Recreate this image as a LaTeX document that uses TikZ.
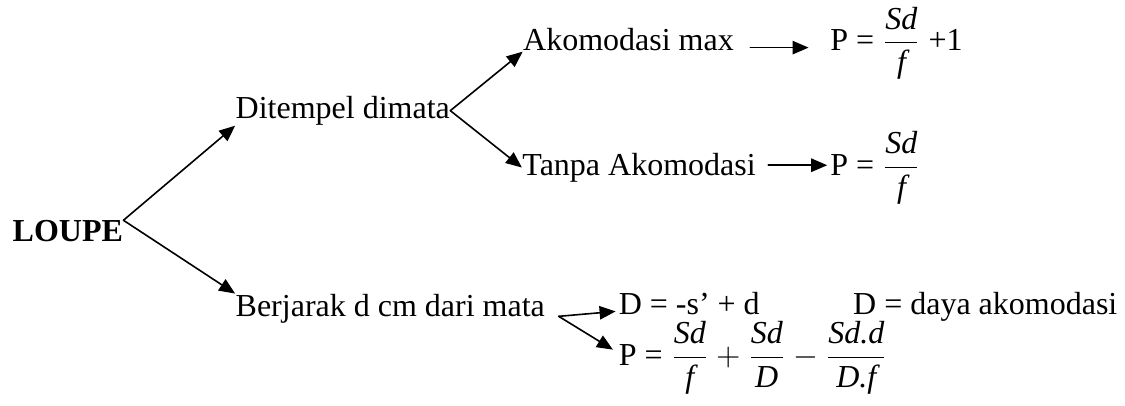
\documentclass[12pt,tikz,border=0pt]{standalone}
\usepackage{amsmath}
\usepackage{fontspec}
\setmainfont{Liberation Serif}
\usetikzlibrary{arrows.meta}

\begin{document}
\begin{tikzpicture}[>=latex, line cap=round, line join=round]

% --- Global TikZ Styles ---
\tikzset{
    branch/.style={
        -{Triangle[length=6pt, width=5pt]},
        line width=0.6pt,
        draw=black
    },
    term/.style={
        anchor=base west,
        inner sep=0pt
    }
}

\useasboundingbox (0,0) rectangle (14.83,5.34);

% --- Hoofdbegrip ---
\node[term] (loupe) at (0.16,2.15) {\bfseries LOUPE};

% --- Eerste vertakking ---
\node[term] (ditempel) at (3.10,3.78) {Ditempel dimata};
\node[term] (berjarak) at (3.10,1.17) {Berjarak d cm dari mata};

% --- Tweede vertakking ---
\node[term] (akomax) at (6.89,4.67) {Akomodasi max};
\node[term] (tanpa) at (6.88,3.03) {Tanpa Akomodasi};

% --- Formules ---
\node[term] (pmax) at (10.94,4.67)
    {P = $\dfrac{\textit{Sd}}{\textit{f}}$ +1};
\node[term] (ptanpa) at (10.94,3.03)
    {P = $\dfrac{\textit{Sd}}{\textit{f}}$};
\node[term] (djarak) at (8.15,1.20) {D = -s’ + d};
\node[term] (dket) at (11.24,1.20) {D = daya akomodasi};
\node[term] (pjarak) at (8.15,0.52)
    {P = $\dfrac{\textit{Sd}}{\textit{f}}+\dfrac{\textit{Sd}}{\textit{D}}-\dfrac{\textit{Sd.d}}{\textit{D.f}}$};

% --- Pijlen ---
\draw[branch] (loupe.north east) -- (ditempel.south west);
\draw[branch] (loupe.north east) -- (berjarak.north west);

\draw[branch] (ditempel.east) -- (akomax.south west);
\draw[branch] (ditempel.east) -- (tanpa.west);

\draw[branch, shorten <=6pt, shorten >=8pt]
    ([yshift=1.2pt]akomax.base east) -- ([yshift=1.2pt]pmax.base west);
\draw[branch, shorten <=4.5pt, shorten >=1pt]
    ([yshift=3.75pt]tanpa.base east) -- ([yshift=3.75pt]ptanpa.base west);

\coordinate (bfork) at ([xshift=5pt]berjarak.base east);
\draw[branch] (bfork) -- ([xshift=-1pt,yshift=1pt]djarak.base west);
\draw[branch] (bfork) -- ([xshift=-2pt,yshift=6pt]pjarak.base west);

\end{tikzpicture}
\end{document}
